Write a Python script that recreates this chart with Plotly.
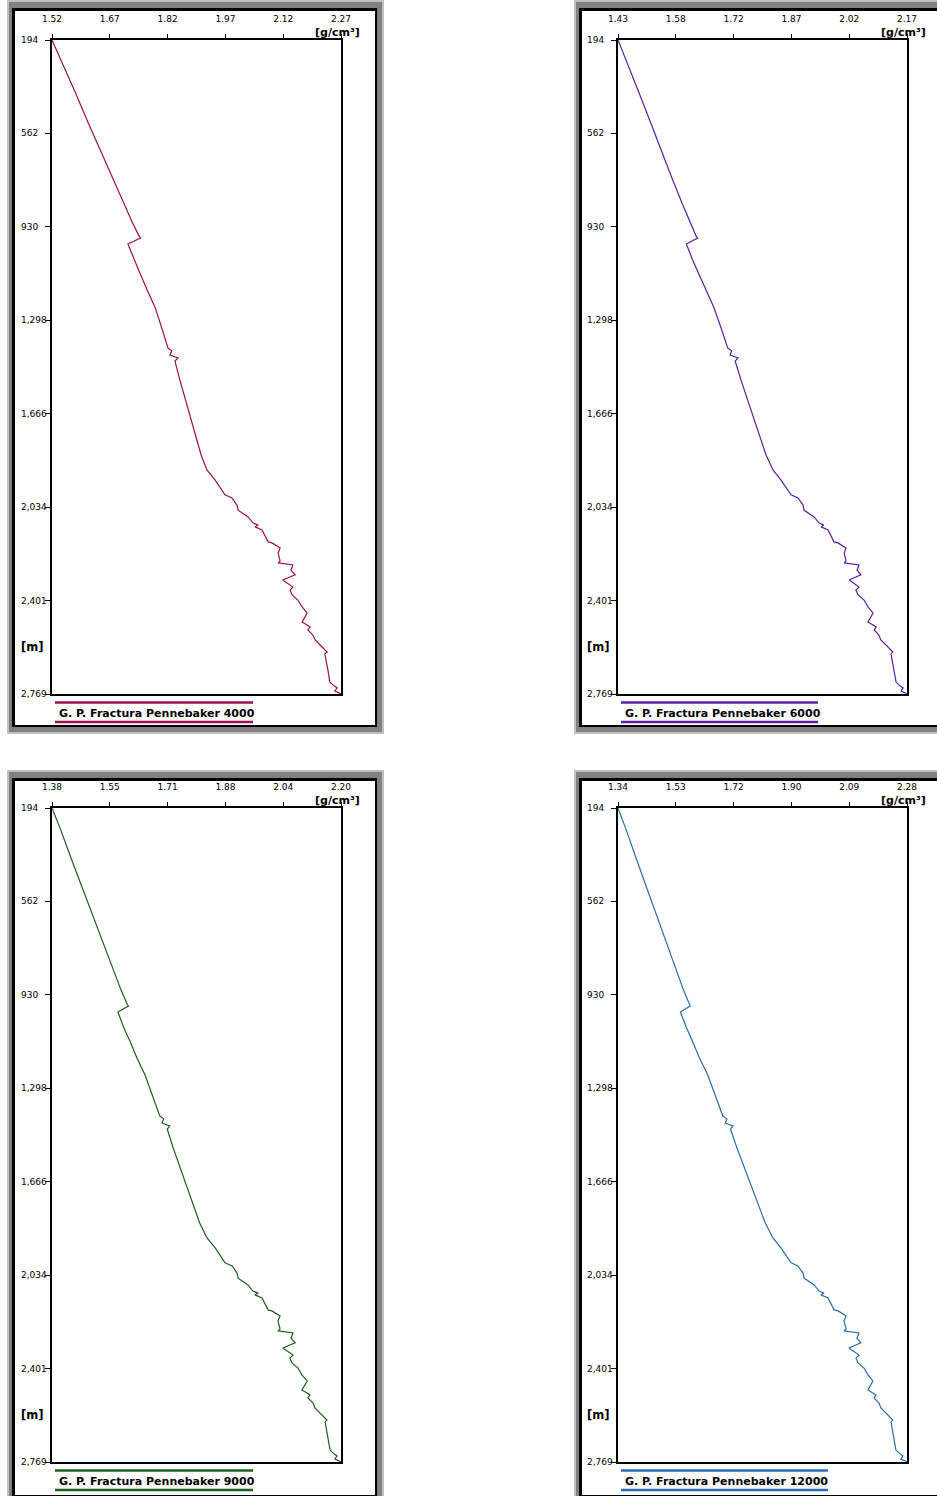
import plotly.graph_objects as go

W, H = 937, 1496

# Depth (m), shared by all four fracture-gradient profiles
DEPTH_M = [194, 281, 399, 517, 627, 737, 844, 911, 966, 974,
           997, 1060, 1111, 1178, 1245, 1328, 1407, 1418, 1434, 1446,
           1458, 1533, 1631, 1730, 1828, 1887, 1926, 1985, 1997, 2025,
           2045, 2072, 2096, 2104, 2111, 2123, 2170, 2174, 2194, 2214,
           2245, 2253, 2261, 2281, 2300, 2320, 2348, 2360, 2379, 2399,
           2426, 2450, 2486, 2497, 2505, 2517, 2537, 2556, 2568, 2584,
           2604, 2611, 2674, 2722, 2737, 2745, 2757, 2769]

# Fracture gradient, Pennebaker method (g/cm3)
GP_4000 = [1.520, 1.546, 1.580, 1.613, 1.645, 1.676, 1.707, 1.728, 1.746, 1.750,
           1.717, 1.733, 1.748, 1.767, 1.787, 1.805, 1.821, 1.831, 1.826, 1.847,
           1.839, 1.852, 1.870, 1.889, 1.907, 1.922, 1.943, 1.969, 1.987, 2.000,
           2.003, 2.029, 2.042, 2.055, 2.047, 2.065, 2.081, 2.091, 2.112, 2.107,
           2.112, 2.107, 2.145, 2.140, 2.151, 2.119, 2.145, 2.138, 2.143, 2.158,
           2.169, 2.182, 2.169, 2.182, 2.190, 2.184, 2.197, 2.203, 2.210, 2.221,
           2.234, 2.228, 2.236, 2.241, 2.252, 2.260, 2.254, 2.270]

GP_6000 = [1.428, 1.451, 1.481, 1.511, 1.538, 1.566, 1.594, 1.612, 1.628, 1.632,
           1.603, 1.619, 1.634, 1.652, 1.673, 1.692, 1.709, 1.719, 1.715, 1.735,
           1.728, 1.743, 1.764, 1.785, 1.807, 1.825, 1.845, 1.871, 1.889, 1.902,
           1.904, 1.930, 1.943, 1.955, 1.948, 1.966, 1.981, 1.991, 2.012, 2.007,
           2.012, 2.007, 2.045, 2.040, 2.050, 2.020, 2.045, 2.037, 2.043, 2.058,
           2.068, 2.081, 2.068, 2.081, 2.089, 2.084, 2.096, 2.101, 2.109, 2.119,
           2.132, 2.127, 2.135, 2.140, 2.150, 2.158, 2.153, 2.168]

GP_9000 = [1.383, 1.408, 1.439, 1.471, 1.501, 1.530, 1.560, 1.579, 1.596, 1.600,
           1.570, 1.587, 1.604, 1.624, 1.647, 1.669, 1.689, 1.700, 1.695, 1.717,
           1.710, 1.727, 1.752, 1.777, 1.802, 1.823, 1.846, 1.874, 1.894, 1.908,
           1.911, 1.939, 1.953, 1.968, 1.959, 1.979, 1.996, 2.007, 2.030, 2.024,
           2.030, 2.024, 2.067, 2.061, 2.073, 2.038, 2.067, 2.058, 2.064, 2.081,
           2.092, 2.107, 2.092, 2.107, 2.115, 2.109, 2.124, 2.129, 2.138, 2.149,
           2.163, 2.158, 2.166, 2.172, 2.183, 2.192, 2.186, 2.203]

GP_12000 = [1.340, 1.367, 1.401, 1.436, 1.468, 1.500, 1.532, 1.553, 1.572, 1.575,
            1.543, 1.563, 1.582, 1.605, 1.632, 1.658, 1.681, 1.694, 1.689, 1.714,
            1.706, 1.727, 1.757, 1.787, 1.819, 1.844, 1.870, 1.903, 1.925, 1.942,
            1.945, 1.978, 1.994, 2.010, 2.000, 2.023, 2.043, 2.056, 2.082, 2.075,
            2.082, 2.075, 2.124, 2.117, 2.130, 2.091, 2.124, 2.114, 2.121, 2.140,
            2.153, 2.169, 2.153, 2.169, 2.179, 2.173, 2.189, 2.195, 2.205, 2.218,
            2.234, 2.228, 2.238, 2.244, 2.257, 2.267, 2.260, 2.280]

# Axis ranges and tick labels
DEPTH_RANGE = (194, 2769)
DEPTH_TICKS = ["194", "562", "930", "1,298", "1,666", "2,034", "2,401", "2,769"]

RANGE_4000 = (1.52, 2.27)
RANGE_6000 = (1.428, 2.168)
RANGE_9000 = (1.383, 2.203)
RANGE_12000 = (1.34, 2.28)

TICKS_4000 = ["1.52", "1.67", "1.82", "1.97", "2.12", "2.27"]
TICKS_6000 = ["1.43", "1.58", "1.72", "1.87", "2.02", "2.17"]
TICKS_9000 = ["1.38", "1.55", "1.71", "1.88", "2.04", "2.20"]
TICKS_12000 = ["1.34", "1.53", "1.72", "1.90", "2.09", "2.28"]

NAMES = ["G. P. Fractura Pennebaker 4000", "G. P. Fractura Pennebaker 6000",
         "G. P. Fractura Pennebaker 9000", "G. P. Fractura Pennebaker 12000"]
COLORS = ["#99124f", "#5b1fa5", "#1f5e1f", "#2b6cb0"]

FONT = "DejaVu Sans"


def px(x):
    return x / W


def py(y):
    return 1 - y / H


def spaced(lo, hi, n):
    return [lo + (hi - lo) * i / (n - 1) for i in range(n)]


panels = [
    dict(x=GP_4000, rng=RANGE_4000, ticks=TICKS_4000, frame=(7, 0), left=52, top=40, leg=253),
    dict(x=GP_6000, rng=RANGE_6000, ticks=TICKS_6000, frame=(574, 0), left=618, top=40, leg=818),
    dict(x=GP_9000, rng=RANGE_9000, ticks=TICKS_9000, frame=(7, 770), left=52, top=808, leg=253),
    dict(x=GP_12000, rng=RANGE_12000, ticks=TICKS_12000, frame=(574, 770), left=618, top=808, leg=828),
]

PW, PH = 289, 654  # plot box size in px
FW, FH = 377, 734  # outer frame size in px

fig = go.Figure()
shapes = []
annotations = []
layout = {}

for i, p in enumerate(panels):
    n = i + 1
    sfx = "" if n == 1 else str(n)
    color = COLORS[i]
    fig.add_trace(go.Scatter(
        x=p["x"], y=DEPTH_M, mode="lines",
        line=dict(color=color, width=1.2),
        xaxis="x" + sfx, yaxis="y" + sfx,
        showlegend=False, hoverinfo="skip",
    ))

    left, top = p["left"], p["top"]
    right, bottom = left + PW, top + PH

    layout["xaxis" + sfx] = dict(
        domain=[px(left), px(right)], range=list(p["rng"]), side="top",
        anchor="y" + sfx, tickmode="array", automargin=False,
        tickvals=spaced(p["rng"][0], p["rng"][1], len(p["ticks"])),
        ticktext=p["ticks"], ticks="outside", ticklen=4, tickwidth=1,
        tickcolor="black", ticklabelstandoff=9,
        showline=True, linecolor="black", linewidth=1.6, mirror=True,
        showgrid=False, zeroline=False,
        tickfont=dict(family=FONT, size=9, color="black"),
        fixedrange=True,
    )
    layout["yaxis" + sfx] = dict(
        domain=[py(bottom), py(top)], range=[DEPTH_RANGE[1], DEPTH_RANGE[0]],
        anchor="x" + sfx, tickmode="array", automargin=False,
        tickvals=spaced(DEPTH_RANGE[0], DEPTH_RANGE[1], len(DEPTH_TICKS)),
        showticklabels=False, ticks="outside", ticklen=5, tickwidth=1,
        tickcolor="black", showline=True, linecolor="black", linewidth=1.6,
        mirror=True, showgrid=False, zeroline=False, fixedrange=True,
    )

    # depth labels, left aligned next to the axis
    for val, lab in zip(layout["yaxis" + sfx]["tickvals"], DEPTH_TICKS):
        annotations.append(dict(
            x=px(left - 33), xref="paper", y=val, yref="y" + sfx,
            text=lab, showarrow=False, xanchor="left", yanchor="middle",
            font=dict(family=FONT, size=9, color="black"),
        ))

    # unit labels
    annotations.append(dict(
        x=px(right + 21), y=py(top - 16), xref="paper", yref="paper",
        text="<b>[g/cm³]</b>", showarrow=False, xanchor="right", yanchor="top",
        font=dict(family=FONT, size=11, color="black"),
    ))
    annotations.append(dict(
        x=px(left - 33), y=py(top + 607), xref="paper", yref="paper",
        text="<b>[m]</b>", showarrow=False, xanchor="left", yanchor="middle",
        font=dict(family=FONT, size=11.5, color="black"),
    ))

    # series caption with colored rules above and below
    annotations.append(dict(
        x=px(left + 5), y=py(top + 673), xref="paper", yref="paper",
        text="<b>" + NAMES[i] + "</b>", showarrow=False, xanchor="left",
        yanchor="middle", font=dict(family=FONT, size=11, color="black"),
    ))
    for yy in (top + 662.5, top + 682):
        shapes.append(dict(
            type="line", xref="paper", yref="paper",
            x0=px(left + 3), x1=px(p["leg"]), y0=py(yy), y1=py(yy),
            line=dict(color=color, width=2.5), layer="above",
        ))

    # sunken window frame
    fx, fy = p["frame"]
    for (dx0, dy0, dx1, dy1, fill) in [
        (0, 0, FW, FH, "#c0c0c0"),
        (2, 2, FW - 2, FH - 2, "#808080"),
        (5, 8, FW - 7, FH - 7, "#000000"),
        (8, 11, FW - 9, FH - 9, "#ffffff"),
    ]:
        shapes.append(dict(
            type="rect", xref="paper", yref="paper",
            x0=px(fx + dx0), x1=px(fx + dx1), y0=py(fy + dy1), y1=py(fy + dy0),
            fillcolor=fill, line=dict(width=0), layer="below",
        ))

fig.update_layout(
    template="none",
    width=W, height=H, margin=dict(l=0, r=0, t=0, b=0, pad=0, autoexpand=False),
    paper_bgcolor="white", plot_bgcolor="rgba(0,0,0,0)",
    shapes=shapes, annotations=annotations, showlegend=False,
    **layout,
)

fig.write_html("out.html", config={"displayModeBar": False})
